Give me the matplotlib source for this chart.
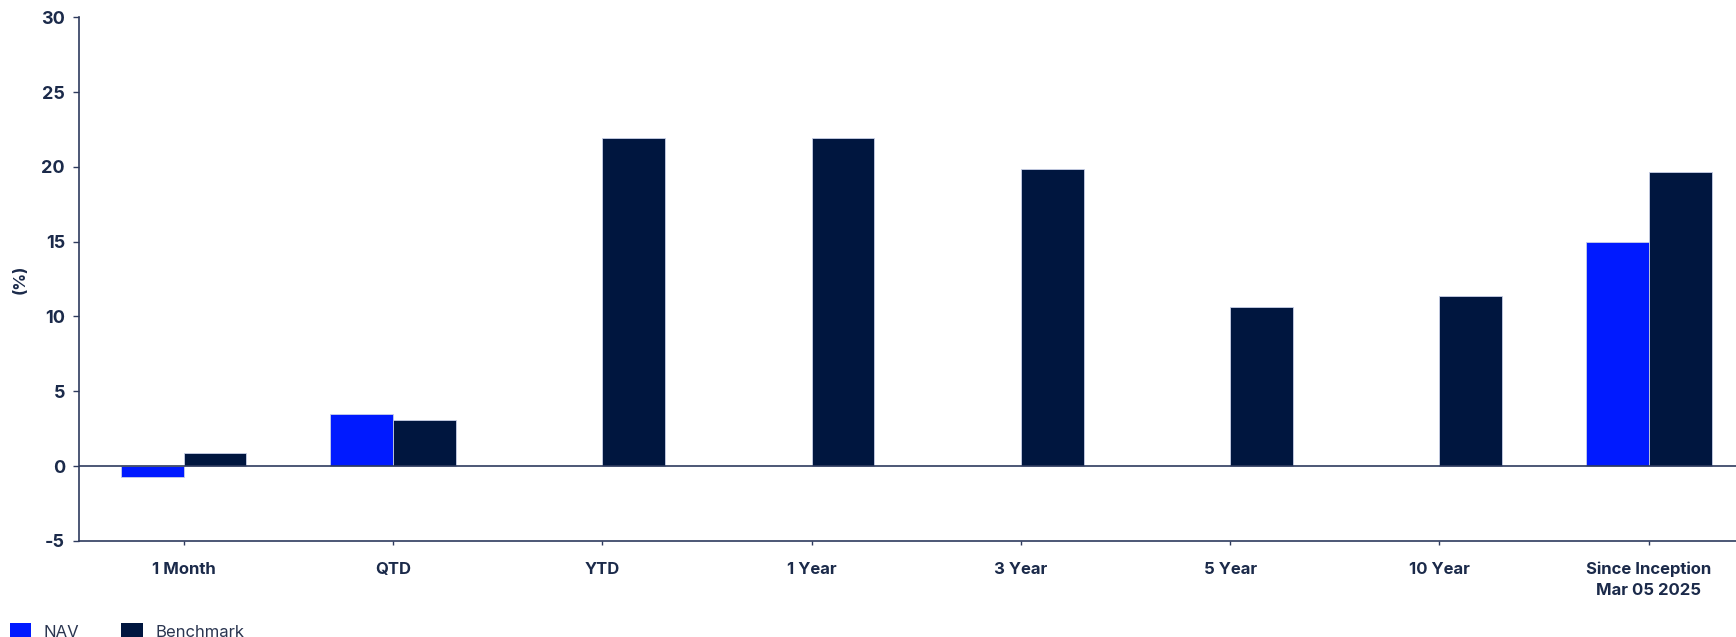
import matplotlib
matplotlib.use("Agg")
import matplotlib.pyplot as plt
import numpy as np
from matplotlib.patches import Patch

plt.rcParams['font.family'] = ['Inter', 'DejaVu Sans']
plt.rcParams['axes.unicode_minus'] = False

# data
periods = ['1 Month', 'QTD', 'YTD', '1 Year', '3 Year', '5 Year', '10 Year',
           'Since Inception\nMar 05 2025']
nav = [-0.71, 3.46, np.nan, np.nan, np.nan, np.nan, np.nan, 14.96]
benchmark = [0.89, 3.06, 21.95, 21.95, 19.83, 10.6, 11.37, 19.65]

nav_color = '#001AFF'
bench_color = '#00163F'
text_color = '#1B2A4A'
axis_color = '#2E3B5E'

fig = plt.figure(figsize=(17.36, 6.37), dpi=100)
# plot area runs slightly past the right edge, as in the source image
ax = fig.add_axes([0.0455, 0.151, 0.9645, 0.822])

x = np.arange(len(periods))
w = 0.3
ax.bar(x - w / 2, nav, w, color=nav_color, edgecolor='#C8D0E8', linewidth=0.6)
ax.bar(x + w / 2, benchmark, w, color=bench_color, edgecolor='#C8D0E8', linewidth=0.6)

ax.axhline(0, color=axis_color, linewidth=1.2, zorder=3)

ax.set_xlim(-0.5, len(periods) - 0.5)
ax.set_ylim(-5, 30)
ax.set_yticks(np.arange(-5, 31, 5))
ax.set_xticks(x)
ax.set_xticklabels(periods, fontsize=12, fontweight='bold', color=text_color,
                   linespacing=1.45)
ax.tick_params(axis='y', labelsize=13, colors=axis_color, length=4, width=1, pad=6)
for lbl in ax.get_yticklabels():
    lbl.set_fontweight('bold')
    lbl.set_color(text_color)
ax.tick_params(axis='x', length=3, width=1, colors=axis_color, pad=12)
for lbl in ax.get_xticklabels():
    lbl.set_color(text_color)

ax.set_ylabel('(%)', fontsize=12, fontweight='bold', color=text_color, labelpad=10)

for side in ['top', 'right']:
    ax.spines[side].set_visible(False)
for side in ['left', 'bottom']:
    ax.spines[side].set_color(axis_color)
    ax.spines[side].set_linewidth(1.2)

handles = [Patch(facecolor=nav_color, label='NAV'),
           Patch(facecolor=bench_color, label='Benchmark')]
fig.legend(handles=handles, loc='lower left', bbox_to_anchor=(-0.003, -0.028),
           ncol=2, frameon=False, fontsize=12, handlelength=1.3, handleheight=1.2,
           columnspacing=2.5, handletextpad=0.75, labelcolor='#2A3550')

fig.savefig('out.png', dpi=100)
